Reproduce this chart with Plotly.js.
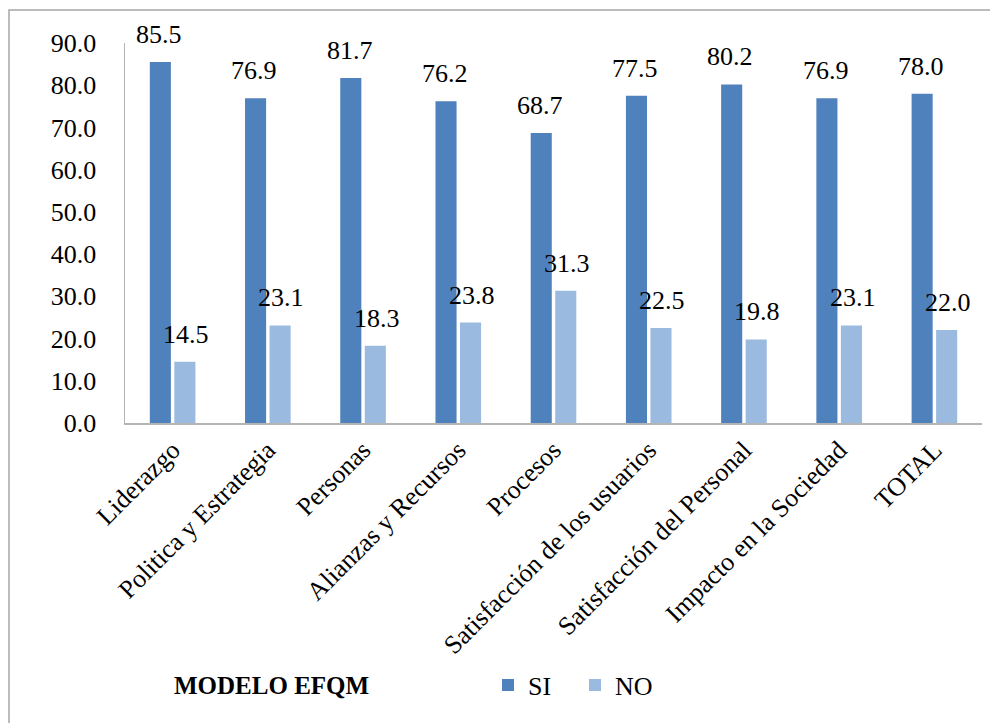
<!DOCTYPE html>
<html>
<head>
<meta charset="utf-8">
<script src="https://cdn.plot.ly/plotly-3.0.1.min.js"></script>
<style>
html,body{margin:0;padding:0;background:#fff;}
#chart{width:990px;height:723px;}
</style>
</head>
<body>
<div id="chart"></div>
<script>
const categories = ["Liderazgo","Politica y Estrategia","Personas","Alianzas y Recursos","Procesos","Satisfacción de los usuarios","Satisfacción del Personal","Impacto en la Sociedad","TOTAL"];
const siValues = [85.5, 76.9, 81.7, 76.2, 68.7, 77.5, 80.2, 76.9, 78.0];
const noValues = [14.5, 23.1, 18.3, 23.8, 31.3, 22.5, 19.8, 23.1, 22.0];
const seriesNames = ["SI", "NO"];
const legendTitle = "MODELO EFQM";
const yTicks = [0,10,20,30,40,50,60,70,80,90];

const FONT = "'Liberation Serif', 'Times New Roman', 'DejaVu Serif', serif";
const SI_COLOR = "#4F81BD";
const NO_COLOR = "#9BBADF";
const LINE = "#b4b4b4";

const traces = [
  {type:"bar", name:seriesNames[0], x:categories, y:siValues, marker:{color:SI_COLOR}, hoverinfo:"none"},
  {type:"bar", name:seriesNames[1], x:categories, y:noValues, marker:{color:NO_COLOR}, hoverinfo:"none"}
];

const annotations = [];
categories.forEach((c,i)=>{
  annotations.push({x:c, y:siValues[i], xref:"x", yref:"y", text:siValues[i].toFixed(1), showarrow:false,
    xanchor:"center", yanchor:"bottom", xshift:-13.5, yshift:11, font:{family:FONT,size:26,color:"#000"}});
  annotations.push({x:c, y:noValues[i], xref:"x", yref:"y", text:noValues[i].toFixed(1), showarrow:false,
    xanchor:"center", yanchor:"bottom", xshift:13.5, yshift:11, font:{family:FONT,size:26,color:"#000"}});
});
annotations.push({xref:"paper", yref:"paper", x:(172-125)/857, y:(423-685)/380, xanchor:"left", yanchor:"middle",
  text:"<b>"+legendTitle+"</b>", showarrow:false, font:{family:FONT,size:25,color:"#000"}});

const layout = {
  width:990, height:723,
  margin:{l:125, r:8, t:43, b:300},
  paper_bgcolor:"#fff", plot_bgcolor:"#fff",
  font:{family:FONT, size:26, color:"#000"},
  barmode:"group", bargap:0.485, bargroupgap:0.14,
  showlegend:true,
  legend:{orientation:"h", x:(488-125)/857, y:(423-685)/380, xanchor:"left", yanchor:"middle",
    font:{family:FONT,size:26,color:"#000"}, bgcolor:"rgba(0,0,0,0)", traceorder:"normal",
    entrywidth:42, entrywidthmode:"pixels"},
  xaxis:{type:"category", showgrid:false, showline:true, linecolor:LINE, linewidth:1.5, ticks:"",
    tickangle:-45, tickfont:{family:FONT,size:26,color:"#000"}, zeroline:false, fixedrange:true},
  yaxis:{range:[0,90], tickvals:yTicks, ticktext:yTicks.map(v=>v.toFixed(1)), showgrid:false, showline:true,
    linecolor:LINE, linewidth:1.5, ticks:"", ticklabelstandoff:22, zeroline:false,
    tickfont:{family:FONT,size:26,color:"#000"}, fixedrange:true},
  annotations:annotations,
  shapes:[
    {type:"path", xref:"paper", yref:"paper",
     path:"M "+((9-125)/857)+","+((423-730)/380)+" L "+((9-125)/857)+","+((423-10)/380)+" L "+((1000-125)/857)+","+((423-10)/380),
     line:{color:"#a6a6a6", width:1.5}}
  ]
};

Plotly.newPlot("chart", traces, layout, {displayModeBar:false, staticPlot:true});
</script>
</body>
</html>
